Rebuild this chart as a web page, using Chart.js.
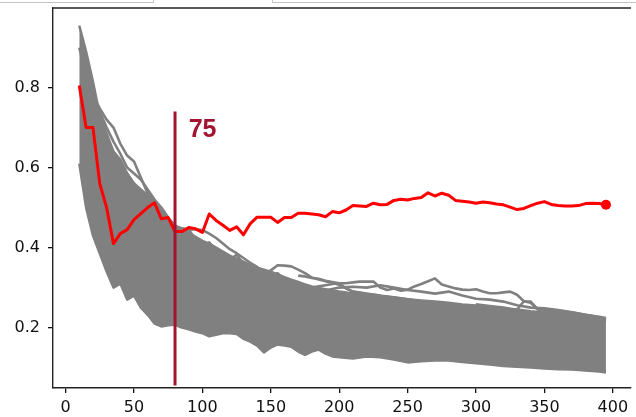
<!DOCTYPE html>
<html>
<head>
<meta charset="utf-8">
<script src="https://cdn.jsdelivr.net/npm/chart.js"></script>
<style>
  html, body { margin: 0; padding: 0; background: #fff; overflow: hidden; }
  #wrap { position: relative; width: 636px; height: 417px; }
  .bar { position: absolute; top: -5px; height: 6px; border: 1px solid #c4c4c4; background: #fff; }
  canvas { position: absolute; left: 0; top: 0; }
</style>
</head>
<body>
<div id="wrap">
  <canvas id="chart" width="636" height="417"></canvas>
  <div class="bar" style="left:-2px;width:154px"></div>
  <div class="bar" style="left:272px;width:380px"></div>
</div>
<script>
// red run, sampled every 5 steps
const redX = [10,15,20,25,30,35,40,45,50,55,60,65,70,75,80,85,90,95,100,105,110,115,120,125,130,135,140,145,150,155,160,165,170,175,180,185,190,195,200,205,210,215,220,225,230,235,240,245,250,255,260,265,270,275,280,285,290,295,300,305,310,315,320,325,330,335,340,345,350,355,360,365,370,375,380,385,390,395];
const redY = [0.805,0.70,0.70,0.56,0.50,0.41,0.435,0.445,0.47,0.485,0.50,0.512,0.472,0.475,0.44,0.44,0.45,0.447,0.438,0.484,0.468,0.456,0.443,0.452,0.432,0.46,0.476,0.476,0.476,0.463,0.475,0.475,0.486,0.486,0.484,0.482,0.477,0.49,0.487,0.494,0.505,0.504,0.503,0.511,0.507,0.508,0.518,0.521,0.519,0.523,0.525,0.537,0.529,0.536,0.531,0.518,0.516,0.514,0.511,0.514,0.512,0.509,0.507,0.501,0.495,0.498,0.505,0.511,0.515,0.508,0.505,0.504,0.504,0.505,0.51,0.511,0.51,0.507];

// envelope of the grey bundle
const bandX = [10,15,20,25,30,35,40,45,50,55,60,65,70,75,80,85,90,95,100,105,110,115,120,125,130,135,140,145,150,155,160,165,170,175,180,185,190,195,200,210,220,230,240,250,260,270,280,290,300,310,320,330,340,350,360,370,380,390,395];
const bandTop = [0.955,0.89,0.815,0.73,0.675,0.64,0.612,0.585,0.56,0.54,0.525,0.508,0.488,0.468,0.455,0.445,0.437,0.427,0.417,0.41,0.40,0.39,0.38,0.372,0.365,0.357,0.35,0.345,0.34,0.333,0.326,0.32,0.314,0.308,0.303,0.299,0.296,0.293,0.29,0.285,0.282,0.279,0.275,0.271,0.268,0.265,0.262,0.258,0.255,0.251,0.248,0.245,0.241,0.238,0.234,0.23,0.226,0.222,0.219];
const bandBottom = [0.61,0.50,0.43,0.385,0.34,0.30,0.31,0.27,0.28,0.25,0.232,0.21,0.203,0.206,0.207,0.20,0.196,0.19,0.186,0.178,0.182,0.186,0.186,0.184,0.172,0.165,0.155,0.138,0.15,0.158,0.155,0.152,0.14,0.132,0.14,0.145,0.135,0.128,0.126,0.123,0.128,0.126,0.12,0.113,0.116,0.118,0.118,0.114,0.111,0.108,0.104,0.102,0.10,0.098,0.096,0.095,0.093,0.09,0.088];

// individual grey runs that stick out of the bundle
const lineAX = [10,15,20,25,30,35,40,45,50,55,60,65,70,75,80,85,90,95,100,105,110,115,120,125,130,135,140,145,150,155,160,165,170,175,180,185,190,200,210,220,240,260,280,300,320,340,360,380,395];
const lineAY = [0.90,0.83,0.78,0.748,0.72,0.70,0.66,0.63,0.615,0.575,0.535,0.515,0.49,0.47,0.455,0.448,0.445,0.446,0.444,0.435,0.424,0.41,0.396,0.386,0.374,0.362,0.352,0.33,0.343,0.356,0.355,0.353,0.345,0.336,0.325,0.32,0.316,0.307,0.29,0.284,0.276,0.266,0.258,0.25,0.243,0.236,0.229,0.222,0.215];
const lineBX = [25,30,35,40,45,50,55,60,65,70,75,80];
const lineBY = [0.74,0.70,0.665,0.635,0.60,0.585,0.57,0.545,0.52,0.50,0.475,0.455];
const lineCX = [25,30,35,40,45,50,55,60,65,70,75];
const lineCY = [0.73,0.685,0.64,0.62,0.585,0.56,0.545,0.53,0.51,0.49,0.465];
const lineDX = [70,75,80,85,90,95,100,105,110,115,120,125,130,135,140,145,150,155,160,170,180];
const lineDY = [0.47,0.455,0.43,0.447,0.425,0.41,0.40,0.413,0.39,0.38,0.37,0.382,0.36,0.345,0.35,0.34,0.33,0.336,0.32,0.31,0.30];
const lineEX = [70,75,80,85,90,95,100,105,110,115,120,125,130,135,140,145,150,160,170,175,180];
const lineEY = [0.46,0.45,0.44,0.435,0.445,0.42,0.405,0.39,0.395,0.375,0.365,0.372,0.355,0.35,0.345,0.335,0.326,0.312,0.31,0.307,0.296];
const lineFX = [180,185,190,195,200,205,210,215,220,225,230,235,240,245,250,255,260,265,270,275,280,285,290,295,300,305,310,315,320,325,330,335,340,345,350,360,370,380,390,395];
const lineFY = [0.30,0.303,0.306,0.309,0.311,0.311,0.313,0.315,0.315,0.315,0.30,0.294,0.298,0.292,0.295,0.303,0.309,0.316,0.323,0.308,0.303,0.298,0.295,0.294,0.296,0.29,0.286,0.286,0.288,0.29,0.282,0.266,0.265,0.246,0.244,0.242,0.238,0.232,0.227,0.224];
const lineGX = [300,310,320,325,330,335,340,345,350,360,370,380,390,395];
const lineGY = [0.258,0.254,0.25,0.247,0.245,0.266,0.262,0.246,0.242,0.238,0.234,0.229,0.225,0.222];
const lineHX = [170,175,180,185,190,195,200,205,210,220,230];
const lineHY = [0.33,0.328,0.324,0.322,0.317,0.314,0.311,0.298,0.29,0.285,0.28];
const lineIX = [180,190,200,210,220,230,240,250,260,270,280,290,300,310,320,330,340,350,360,370,380,390,395];
const lineIY = [0.295,0.293,0.30,0.302,0.30,0.306,0.30,0.294,0.29,0.285,0.29,0.28,0.272,0.27,0.265,0.256,0.25,0.248,0.244,0.238,0.232,0.226,0.222];

// marker line
const markerX = 80;
const markerSpan = [0.055, 0.74];
const markerLabel = '75';

const xTickValues = [0,50,100,150,200,250,300,350,400];
const yTickValues = [0.2,0.4,0.6,0.8];

const GREY = '#808080';
const RED = '#ff0000';
const DARKRED = '#a2142f';

const pts = (xs, ys) => xs.map((x, i) => ({ x: x, y: ys[i] }));

const greyRuns = [
  [lineAX, lineAY], [lineBX, lineBY], [lineCX, lineCY], [lineDX, lineDY], [lineEX, lineEY],
  [lineFX, lineFY], [lineGX, lineGY], [lineHX, lineHY], [lineIX, lineIY]
];

const datasets = [
  {
    data: pts(bandX, bandTop), borderColor: GREY, backgroundColor: GREY,
    borderWidth: 2.5, pointRadius: 0, fill: '+1', order: 30
  },
  {
    data: pts(bandX, bandBottom), borderColor: GREY, borderWidth: 2.5,
    pointRadius: 0, fill: false, order: 29
  }
];
greyRuns.forEach(function (r) {
  datasets.push({ data: pts(r[0], r[1]), borderColor: GREY, borderWidth: 2.6, pointRadius: 0, fill: false, order: 20 });
});
datasets.push({
  data: pts(redX, redY), borderColor: RED, backgroundColor: RED, borderWidth: 3, fill: false, order: 2,
  pointRadius: ctx => ctx.dataIndex === redX.length - 1 ? 5 : 0, pointBorderWidth: 0
});
datasets.push({
  data: [{ x: markerX, y: markerSpan[0] }, { x: markerX, y: markerSpan[1] }],
  borderColor: DARKRED, borderWidth: 3, pointRadius: 0, fill: false, order: 1
});

const extras = {
  id: 'extras',
  afterDatasetsDraw(chart) {
    const c = chart.ctx, a = chart.chartArea;
    const xs = chart.scales.x, ys = chart.scales.y;
    c.save();
    // top spine
    c.strokeStyle = '#222';
    c.lineWidth = 1.4;
    c.beginPath();
    c.moveTo(a.left, a.top);
    c.lineTo(a.right, a.top);
    c.stroke();
    // marker label
    c.fillStyle = DARKRED;
    c.font = 'bold 25px "Liberation Sans", Arial, sans-serif';
    c.textBaseline = 'alphabetic';
    c.textAlign = 'left';
    c.fillText(markerLabel, xs.getPixelForValue(90), ys.getPixelForValue(0.677));
    c.restore();
  }
};

const tickFont = { family: '"DejaVu Sans", sans-serif', size: 16 };

new Chart(document.getElementById('chart'), {
  type: 'line',
  data: { datasets: datasets },
  options: {
    responsive: false,
    animation: false,
    events: [],
    layout: { padding: { top: 8, right: 0, left: 0, bottom: 0 } },
    plugins: { legend: { display: false }, tooltip: { enabled: false } },
    elements: { line: { tension: 0, borderJoinStyle: 'round', borderCapStyle: 'butt' } },
    scales: {
      x: {
        type: 'linear', min: -9.2, max: 413.3,
        grid: { drawOnChartArea: false, drawTicks: true, tickLength: 5, tickColor: '#111', lineWidth: 1.3 },
        border: { display: true, color: '#222', width: 1.4 },
        ticks: { color: '#111', font: tickFont, padding: 5, maxRotation: 0 },
        afterBuildTicks: s => { s.ticks = xTickValues.map(v => ({ value: v })); },
        afterFit: s => { s.height = 29; s.paddingLeft = 0; s.paddingRight = 0; }
      },
      y: {
        type: 'linear', min: 0.049, max: 0.999,
        grid: { drawOnChartArea: false, drawTicks: true, tickLength: 5, tickColor: '#111', lineWidth: 1.3 },
        border: { display: true, color: '#222', width: 1.4 },
        ticks: { color: '#111', font: tickFont, padding: 8, callback: v => v.toFixed(1) },
        afterBuildTicks: s => { s.ticks = yTickValues.map(v => ({ value: v })); },
        afterFit: s => { s.width = 53; s.paddingTop = 0; s.paddingBottom = 0; }
      }
    }
  },
  plugins: [extras]
});
</script>
</body>
</html>
